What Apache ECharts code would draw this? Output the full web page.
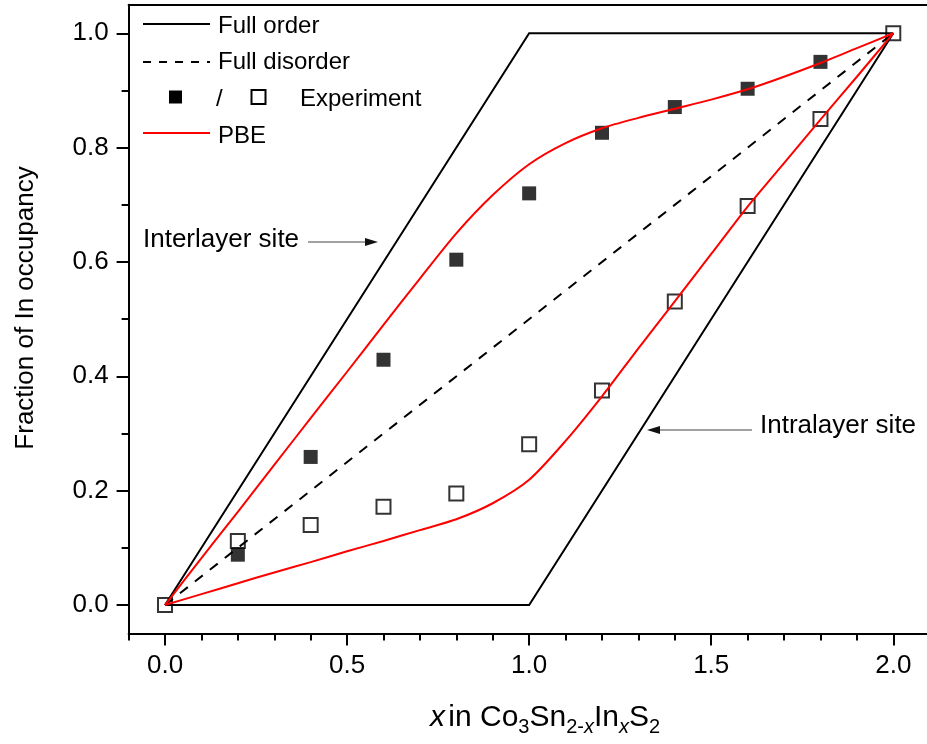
<!DOCTYPE html>
<html>
<head>
<meta charset="utf-8">
<script src="https://cdn.jsdelivr.net/npm/echarts@6/dist/echarts.min.js"></script>
<style>
  html, body { margin: 0; padding: 0; background: #fff; }
  #chart { width: 927px; height: 744px; }
</style>
</head>
<body>
<div id="chart"></div>
<script>
// Tick positions
const xMajorTicks = [0, 0.5, 1.0, 1.5, 2.0];
const xMinorTicks = [-0.1, 0.1, 0.2, 0.3, 0.4, 0.6, 0.7, 0.8, 0.9, 1.1, 1.2, 1.3, 1.4, 1.6, 1.7, 1.8, 1.9, 2.1];
const yMajorTicks = [0, 0.2, 0.4, 0.6, 0.8, 1.0];
const yMinorTicks = [0.1, 0.3, 0.5, 0.7, 0.9];

// Limiting cases
const fullOrderUpperX = [0, 1, 2];
const fullOrderUpperY = [0, 1, 1];
const fullOrderLowerX = [0, 1, 2];
const fullOrderLowerY = [0, 0, 1];
const fullDisorderX = [0, 2];
const fullDisorderY = [0, 1];

// Measured In occupancy
const interlayerX = [0.2, 0.4, 0.6, 0.8, 1.0, 1.2, 1.4, 1.6, 1.8];
const interlayerExp = [0.088, 0.259, 0.429, 0.604, 0.720, 0.826, 0.871, 0.903, 0.950];
const intralayerX = [0.0, 0.2, 0.4, 0.6, 0.8, 1.0, 1.2, 1.4, 1.6, 1.8, 2.0];
const intralayerExp = [0.0, 0.112, 0.140, 0.172, 0.195, 0.281, 0.375, 0.531, 0.698, 0.850, 1.0];

// PBE calculations
const pbeX = [0, 0.1, 0.2, 0.3, 0.4, 0.5, 0.6, 0.7, 0.8, 0.9, 1.0, 1.1, 1.2, 1.3, 1.4, 1.5, 1.6, 1.7, 1.8, 1.9, 2.0];
const pbeInterlayer = [0, 0.082, 0.163, 0.245, 0.327, 0.408, 0.490, 0.571, 0.650, 0.717, 0.771, 0.808, 0.834, 0.852, 0.868, 0.884, 0.902, 0.924, 0.948, 0.974, 1.0];
const pbeIntralayer = [0, 0.019, 0.038, 0.057, 0.075, 0.094, 0.112, 0.131, 0.150, 0.178, 0.219, 0.287, 0.365, 0.449, 0.531, 0.614, 0.697, 0.773, 0.849, 0.924, 1.0];

const FONT = "'Liberation Sans', Arial, sans-serif";
const pairs = (xs, ys) => xs.map((x, i) => [x, ys[i]]);

const chart = echarts.init(document.getElementById('chart'), null, { renderer: 'canvas' });

const axisLineStyle = { color: '#000', width: 2 };

function baseX(extra) {
  return Object.assign({
    type: 'value', min: -0.1, max: 2.1, gridIndex: 0,
    splitLine: { show: false },
    axisLine: { show: false, onZero: false, lineStyle: axisLineStyle },
    axisTick: { show: false },
    axisLabel: { show: false }
  }, extra);
}
function baseY(extra) {
  return Object.assign({
    type: 'value', min: -0.05, max: 1.05, gridIndex: 0,
    splitLine: { show: false },
    axisLine: { show: false, onZero: false, lineStyle: axisLineStyle },
    axisTick: { show: false },
    axisLabel: { show: false }
  }, extra);
}

const option = {
  animation: false,
  backgroundColor: '#fff',
  grid: { left: 128.6, right: -2.7, top: 4.7, bottom: 110.4, containLabel: false, outerBoundsMode: 'none' },
  xAxis: [
    baseX({
      position: 'bottom',
      axisLine: { show: true, onZero: false, lineStyle: axisLineStyle },
      axisTick: { show: true, inside: false, length: 12, customValues: xMajorTicks, lineStyle: { color: '#000', width: 2 } },
      axisLabel: { show: true, customValues: xMajorTicks, margin: 19, fontSize: 26, color: '#000', fontFamily: FONT,
        formatter: v => v.toFixed(1) }
    }),
    baseX({
      position: 'bottom',
      axisTick: { show: true, inside: false, length: 7, customValues: xMinorTicks, lineStyle: { color: '#000', width: 2 } }
    }),
    baseX({
      position: 'top',
      axisLine: { show: true, onZero: false, lineStyle: axisLineStyle }
    })
  ],
  yAxis: [
    baseY({
      position: 'left',
      axisLine: { show: true, onZero: false, lineStyle: axisLineStyle },
      axisTick: { show: true, inside: false, length: 12, customValues: yMajorTicks, lineStyle: { color: '#000', width: 2 } },
      axisLabel: { show: true, customValues: yMajorTicks, margin: 20, fontSize: 26, color: '#000', fontFamily: FONT,
        formatter: v => v.toFixed(1) }
    }),
    baseY({
      position: 'left',
      axisTick: { show: true, inside: false, length: 7, customValues: yMinorTicks, lineStyle: { color: '#000', width: 2 } }
    }),
    baseY({
      position: 'right',
      axisLine: { show: true, onZero: false, lineStyle: axisLineStyle }
    })
  ],
  series: [
    {
      name: 'Full order', type: 'line', data: pairs(fullOrderUpperX, fullOrderUpperY),
      symbol: 'none', lineStyle: { color: '#000', width: 2, join: 'miter' }, z: 2
    },
    {
      name: 'Full order (lower)', type: 'line', data: pairs(fullOrderLowerX, fullOrderLowerY),
      symbol: 'none', lineStyle: { color: '#000', width: 2, join: 'miter' }, z: 2
    },
    {
      name: 'Full disorder', type: 'line', data: pairs(fullDisorderX, fullDisorderY),
      symbol: 'none', lineStyle: { color: '#000', width: 2, type: [10, 9] }, z: 2
    },
    {
      name: 'Interlayer experiment', type: 'scatter', data: pairs(interlayerX, interlayerExp),
      symbol: 'rect', symbolSize: 14, itemStyle: { color: '#000' }, z: 3
    },
    {
      name: 'Intralayer experiment', type: 'scatter', data: pairs(intralayerX, intralayerExp),
      symbol: 'rect', symbolSize: 14,
      itemStyle: { color: 'rgba(255,255,255,0)', borderColor: '#000', borderWidth: 2 }, z: 3
    },
    {
      name: 'PBE', type: 'line', data: pairs(pbeX, pbeInterlayer), smooth: 0.25,
      symbol: 'none', lineStyle: { color: '#ff0000', width: 2 }, z: 4
    },
    {
      name: 'PBE (intralayer)', type: 'line', data: pairs(pbeX, pbeIntralayer), smooth: 0.25,
      symbol: 'none', lineStyle: { color: '#ff0000', width: 2 }, z: 4
    }
  ],
  graphic: [
    // legend
    { type: 'line', shape: { x1: 143, y1: 24, x2: 210, y2: 24 }, style: { stroke: '#000', lineWidth: 2 } },
    { type: 'text', position: [218, 26], style: { text: 'Full order', font: '24px ' + FONT, fill: '#000', textVerticalAlign: 'middle' } },
    { type: 'line', shape: { x1: 143, y1: 62, x2: 210, y2: 62 }, style: { stroke: '#000', lineWidth: 2, lineDash: [8, 8] } },
    { type: 'text', position: [218, 62], style: { text: 'Full disorder', font: '24px ' + FONT, fill: '#000', textVerticalAlign: 'middle' } },
    { type: 'rect', shape: { x: 169, y: 90.5, width: 13, height: 13 }, style: { fill: '#000' } },
    { type: 'text', position: [216, 99], style: { text: '/', font: '24px ' + FONT, fill: '#000', textVerticalAlign: 'middle' } },
    { type: 'rect', shape: { x: 251.5, y: 90, width: 14, height: 14 }, style: { fill: 'none', stroke: '#000', lineWidth: 2 } },
    { type: 'text', position: [300, 99], style: { text: 'Experiment', font: '24px ' + FONT, fill: '#000', textVerticalAlign: 'middle' } },
    { type: 'line', shape: { x1: 143, y1: 133, x2: 210, y2: 133 }, style: { stroke: '#ff0000', lineWidth: 2 } },
    { type: 'text', position: [218, 136], style: { text: 'PBE', font: '24px ' + FONT, fill: '#000', textVerticalAlign: 'middle' } },

    // site annotations
    { type: 'text', position: [143, 240], style: { text: 'Interlayer site', font: '26px ' + FONT, fill: '#000', textVerticalAlign: 'middle' } },
    { type: 'line', shape: { x1: 308, y1: 242, x2: 368, y2: 242 }, style: { stroke: '#444', lineWidth: 1.2 } },
    { type: 'polygon', shape: { points: [[378, 242], [365, 238], [365, 246]] }, style: { fill: '#111' } },
    { type: 'text', position: [760, 426], style: { text: 'Intralayer site', font: '26px ' + FONT, fill: '#000', textVerticalAlign: 'middle' } },
    { type: 'line', shape: { x1: 657, y1: 430, x2: 752, y2: 430 }, style: { stroke: '#444', lineWidth: 1.2 } },
    { type: 'polygon', shape: { points: [[647, 430], [660, 426], [660, 434]] }, style: { fill: '#111' } },

    // axis titles
    {
      type: 'text', position: [26, 308], rotation: Math.PI / 2,
      style: { text: 'Fraction of In occupancy', font: '26px ' + FONT, fill: '#000', textAlign: 'center', textVerticalAlign: 'middle' }
    },
    {
      type: 'text', position: [430, 718],
      style: {
        text: '{i|x} {n|in Co}{s|3}{n|Sn}{s|2-}{si|x}{n|In}{si|x}{n|S}{s|2}',
        textVerticalAlign: 'middle', fill: '#000',
        rich: {
          i: { fontSize: 30, fontStyle: 'italic', fontFamily: FONT, lineHeight: 34 },
          n: { fontSize: 30, fontFamily: FONT, lineHeight: 34 },
          s: { fontSize: 20, fontFamily: FONT, lineHeight: 20, padding: [18, 0, 0, 0] },
          si: { fontSize: 20, fontStyle: 'italic', fontFamily: FONT, lineHeight: 20, padding: [18, 0, 0, 0] }
        }
      }
    }
  ]
};

chart.setOption(option);
</script>
</body>
</html>
